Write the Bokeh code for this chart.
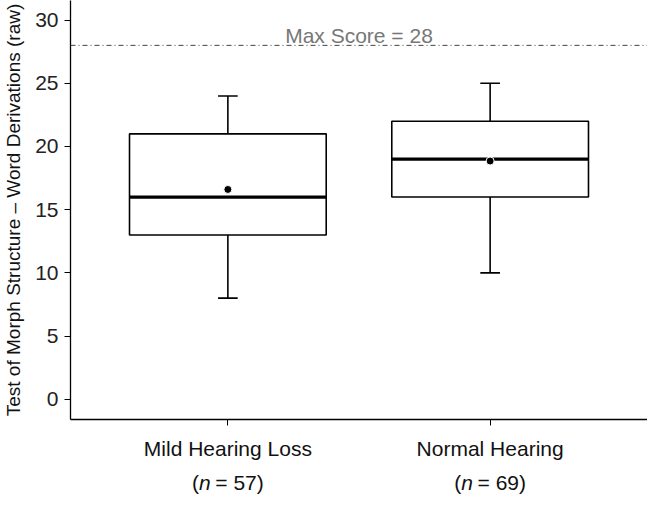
from bokeh.plotting import figure
from bokeh.layouts import column
from bokeh.models import Range1d, FixedTicker, Span, Label
from bokeh.core.properties import value
from bokeh.embed import file_html
from bokeh.resources import INLINE

# ---- data ----
categories = ["Mild Hearing Loss", "Normal Hearing"]
group_n = [57, 69]
whisker_low = [8, 10]
q1 = [13, 16]
median = [16, 19]
q3 = [21, 22]
whisker_high = [24, 25]
means = [16.6, 18.85]
max_score = 28
y_ticks = [0, 5, 10, 15, 20, 25, 30]

FONT = "Liberation Sans"
FS = 21
xs = [i + 1 for i in range(len(categories))]

Y0, Y1 = -1.6, 31.55
FRAME_H = 428
MAIN_H = 462
SUB_H = 34
px_per_unit = FRAME_H / (Y1 - Y0)

xr = Range1d(0.4, 2.6)
p = figure(width=647, height=MAIN_H, output_backend="svg", toolbar_location=None,
           x_range=xr, y_range=Range1d(Y0, Y1),
           min_border_left=70, min_border_right=0, min_border_top=0,
           min_border_bottom=MAIN_H - FRAME_H)
p.outline_line_color = None
p.grid.visible = False
p.background_fill_color = "white"

# boxes
box_w = 0.75
cap_w = 0.075
p.vbar(x=xs, width=box_w, bottom=q1, top=q3, fill_color="white",
       line_color="black", line_width=1.6)
# whiskers
p.segment(x0=xs, y0=q3, x1=xs, y1=whisker_high, line_color="black", line_width=1.6)
p.segment(x0=xs, y0=whisker_low, x1=xs, y1=q1, line_color="black", line_width=1.6)
# caps
p.segment(x0=[x - cap_w / 2 for x in xs], y0=whisker_high,
          x1=[x + cap_w / 2 for x in xs], y1=whisker_high, line_color="black", line_width=1.6)
p.segment(x0=[x - cap_w / 2 for x in xs], y0=whisker_low,
          x1=[x + cap_w / 2 for x in xs], y1=whisker_low, line_color="black", line_width=1.6)
# medians
p.segment(x0=[x - box_w / 2 for x in xs], y0=median,
          x1=[x + box_w / 2 for x in xs], y1=median, line_color="black", line_width=3.2)
# means
p.scatter(x=xs, y=means, size=8, fill_color="black", line_color="white", line_width=1)

# max score line
p.add_layout(Span(location=max_score, dimension="width", line_color="#444444",
                  line_width=1, line_dash="5 3 1 3"))
p.add_layout(Label(x=1.5, y=max_score + 10 / px_per_unit, text=f"Max Score = {max_score}",
                   text_align="center", text_baseline="alphabetic",
                   text_font=FONT, text_font_size=f"{FS}px", text_color="#777777"))

# axes
p.yaxis.ticker = FixedTicker(ticks=y_ticks)
p.yaxis.minor_tick_line_color = None
p.yaxis.major_tick_out = 6
p.yaxis.major_tick_in = 0
p.yaxis.axis_line_color = "black"
p.yaxis.axis_line_width = 1.3
p.yaxis.major_tick_line_color = "black"
p.yaxis.major_label_text_font = FONT
p.yaxis.major_label_text_font_size = f"{FS}px"
p.yaxis.major_label_text_color = "#222222"
p.yaxis.major_label_standoff = 6
p.yaxis.axis_label = "Test of Morph Structure \u2013 Word Derivations (raw)"
p.yaxis.axis_label_text_font = FONT
p.yaxis.axis_label_text_font_size = "19px"
p.yaxis.axis_label_text_font_style = "normal"
p.yaxis.axis_label_text_color = "#111111"
p.yaxis.axis_label_standoff = 8

p.xaxis.ticker = FixedTicker(ticks=xs)
p.xaxis.major_label_overrides = {x: c for x, c in zip(xs, categories)}
p.xaxis.minor_tick_line_color = None
p.xaxis.major_tick_out = 6
p.xaxis.major_tick_in = 0
p.xaxis.axis_line_color = "black"
p.xaxis.axis_line_width = 1.3
p.xaxis.major_tick_line_color = "black"
p.xaxis.major_label_text_font = FONT
p.xaxis.major_label_text_font_size = f"{FS}px"
p.xaxis.major_label_text_color = "#111111"
p.xaxis.major_label_standoff = 11

# second label line "(n = NN)" with italic n, in a strip below sharing the x range
sub = figure(width=647, height=SUB_H, output_backend="svg", toolbar_location=None,
             x_range=xr, y_range=Range1d(0, SUB_H),
             min_border_left=70, min_border_right=0, min_border_top=0, min_border_bottom=0)
sub.outline_line_color = None
sub.grid.visible = False
sub.axis.visible = False

ch_w = FS * 0.333   # "(" width
n_w = FS * 0.556    # italic n width
sp_w = FS * 0.22    # gap before "="
base_y = [14] * len(xs)
lefts, rests, n_offs, rest_offs = [], [], [], []
for n in group_n:
    rest = f"= {n})"
    rest_w = FS * (0.584 + 0.278 + 0.556 * len(str(n)) + 0.333)
    total = ch_w + n_w + sp_w + rest_w
    left = -total / 2
    lefts.append(left)
    n_offs.append(left + ch_w)
    rest_offs.append(left + ch_w + n_w + sp_w)
    rests.append(rest)

common = dict(text_baseline="alphabetic", text_font=value(FONT),
              text_font_size=f"{FS}px", text_color="#111111", text_align="left")
sub.text(x=xs, y=base_y, text=["("] * len(xs), x_offset=lefts, **common)
sub.text(x=xs, y=base_y, text=["n"] * len(xs), x_offset=n_offs,
         text_font_style="italic", **common)
sub.text(x=xs, y=base_y, text=rests, x_offset=rest_offs, **common)

layout = column(p, sub, spacing=0)
open("out.html", "w").write(file_html(layout, INLINE))
